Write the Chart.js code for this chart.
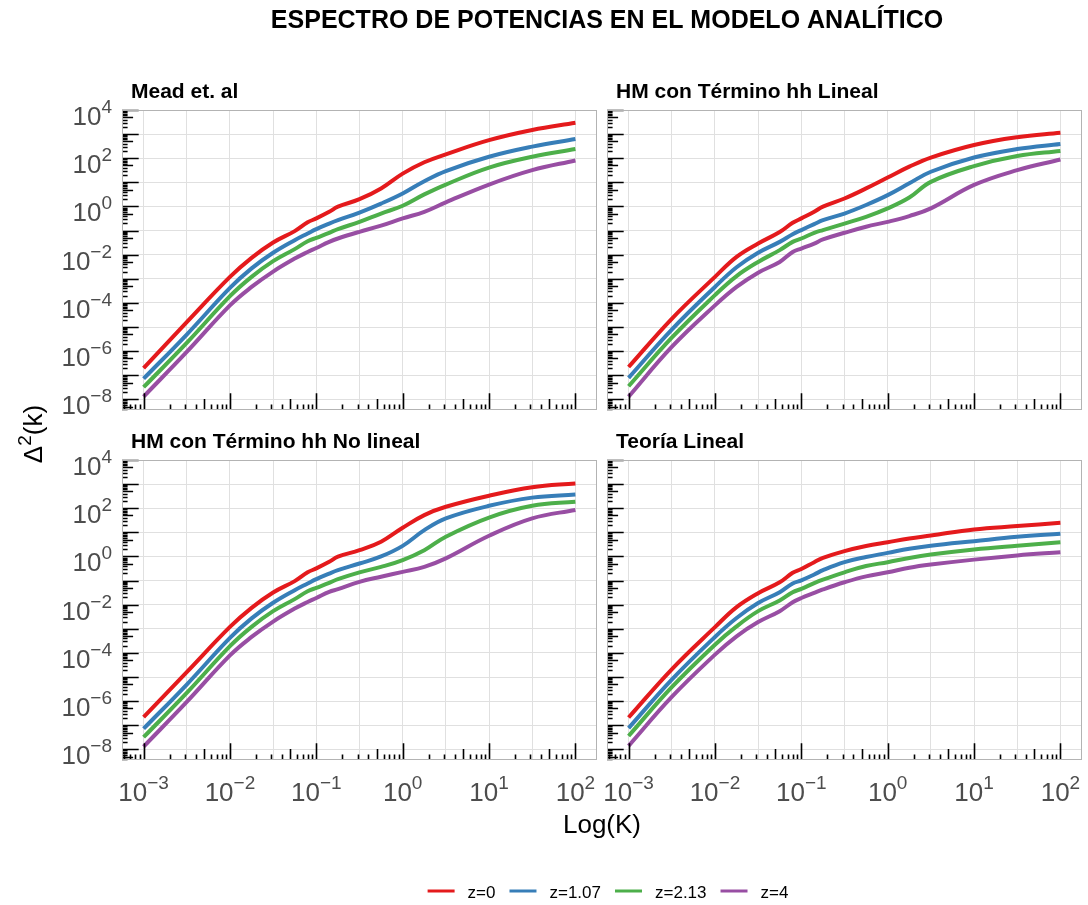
<!DOCTYPE html>
<html>
<head>
<meta charset="utf-8">
<script src="https://cdn.jsdelivr.net/npm/chart.js@4/dist/chart.umd.min.js"></script>
<style>
  html, body { margin: 0; padding: 0; background: #fff; }
  #wrap { position: relative; width: 1088px; height: 905px; }
  #wrap canvas { position: absolute; left: 0; top: 0; }
</style>
</head>
<body>
<div id="wrap"></div>
<script>
// wavenumbers shared by every curve
const kValues = [0.001, 0.00316, 0.01, 0.0178, 0.0316, 0.0562, 0.0794, 0.1, 0.141, 0.178,
                 0.316, 0.562, 1, 1.78, 3.16, 10, 31.6, 100];

const seriesLabels = ['z=0', 'z=1.07', 'z=2.13', 'z=4'];
const seriesColors = ['#E41A1C', '#377EB8', '#4DAF4A', '#984EA3'];

// Mead et. al
const meadZ0   = [2.0e-7, 1.6e-5, 1.2e-3, 7.4e-3, 3.2e-2, 9.5e-2, 0.22, 0.32, 0.60, 0.98, 2.0, 5.6, 23, 68, 145, 560, 1480, 2950];
const meadZ107 = [7.2e-8, 4.9e-6, 4.2e-4, 2.7e-3, 1.2e-2, 4.0e-2, 7.6e-2, 0.115, 0.195, 0.27, 0.56, 1.32, 3.47, 11.2, 29.5, 115, 302, 631];
const meadZ213 = [3.2e-8, 2.2e-6, 1.9e-4, 1.2e-3, 5.4e-3, 1.7e-2, 3.6e-2, 5.0e-2, 8.1e-2, 0.115, 0.23, 0.51, 1.07, 3.16, 8.1, 41, 115, 240];
const meadZ4   = [1.3e-8, 9.3e-7, 7.9e-5, 4.6e-4, 2.0e-3, 6.9e-3, 1.3e-2, 1.9e-2, 3.4e-2, 4.7e-2, 8.9e-2, 0.16, 0.32, 0.60, 1.48, 8.1, 32, 81];

// HM con término hh lineal
const hhLinZ0   = [2.2e-7, 2.2e-5, 1.2e-3, 8.1e-3, 2.9e-2, 8.7e-2, 0.21, 0.32, 0.60, 0.98, 2.14, 5.6, 15.8, 44.7, 107, 355, 741, 1150];
const hhLinZ107 = [7.8e-8, 7.8e-6, 4.6e-4, 3.0e-3, 1.2e-2, 3.4e-2, 7.1e-2, 0.105, 0.186, 0.27, 0.51, 1.15, 2.95, 9.1, 27.5, 107, 240, 389];
const hhLinZ213 = [3.5e-8, 3.6e-6, 2.1e-4, 1.3e-3, 5.0e-3, 1.55e-2, 3.4e-2, 4.7e-2, 8.1e-2, 0.105, 0.195, 0.37, 0.83, 2.34, 10.5, 47, 123, 200];
const hhLinZ4   = [1.3e-8, 1.5e-6, 7.9e-5, 4.6e-4, 1.8e-3, 5.0e-3, 1.3e-2, 1.8e-2, 2.9e-2, 4.3e-2, 8.1e-2, 0.145, 0.23, 0.40, 0.83, 7.8, 32, 89];

// HM con término hh no lineal
const hhNoLinZ0   = [2.2e-7, 1.6e-5, 1.2e-3, 7.4e-3, 3.2e-2, 9.5e-2, 0.22, 0.32, 0.60, 0.98, 1.82, 4.1, 15.5, 52, 115, 331, 741, 1070];
const hhNoLinZ107 = [7.2e-8, 4.9e-6, 4.2e-4, 2.7e-3, 1.2e-2, 4.0e-2, 7.6e-2, 0.115, 0.195, 0.27, 0.51, 1.0, 2.75, 12.3, 38, 126, 275, 372];
const hhNoLinZ213 = [3.2e-8, 2.2e-6, 1.9e-4, 1.2e-3, 5.4e-3, 1.7e-2, 3.6e-2, 5.0e-2, 8.1e-2, 0.115, 0.22, 0.37, 0.71, 1.82, 6.6, 41, 126, 186];
const hhNoLinZ4   = [1.3e-8, 9.3e-7, 7.9e-5, 4.6e-4, 2.0e-3, 6.9e-3, 1.3e-2, 1.9e-2, 3.4e-2, 4.4e-2, 8.9e-2, 0.145, 0.23, 0.37, 0.83, 7.2, 38, 85];

// Teoría lineal
const linearZ0   = [2.1e-7, 2.1e-5, 1.17e-3, 7.9e-3, 3.0e-2, 8.5e-2, 0.21, 0.30, 0.58, 0.87, 1.66, 2.7, 3.9, 5.6, 7.4, 13.2, 18.2, 25];
const linearZ107 = [7.6e-8, 7.8e-6, 4.6e-4, 2.8e-3, 1.17e-2, 3.3e-2, 7.6e-2, 0.102, 0.178, 0.27, 0.58, 0.95, 1.41, 2.1, 2.8, 4.3, 6.5, 8.7];
const linearZ213 = [3.6e-8, 3.8e-6, 2.2e-4, 1.26e-3, 5.4e-3, 1.5e-2, 3.3e-2, 4.5e-2, 7.9e-2, 0.11, 0.22, 0.40, 0.58, 0.87, 1.2, 1.95, 2.8, 3.9];
const linearZ4   = [1.4e-8, 1.5e-6, 8.5e-5, 4.9e-4, 1.9e-3, 5.4e-3, 1.26e-2, 1.9e-2, 3.1e-2, 4.3e-2, 8.5e-2, 0.15, 0.22, 0.34, 0.46, 0.74, 1.1, 1.5];

// labelled powers of ten
const xTickExps = [-3, -2, -1, 0, 1, 2];
const yTickExps = [-8, -6, -4, -2, 0, 2, 4];

const FONT = '"Liberation Sans", Arial, Helvetica, sans-serif';
const BASE_FONT = '26px ' + FONT;
const SUP_FONT = '19px ' + FONT;
const X_LOG = [-3.25, 2.25];
const Y_LOG = [-8.44, 4];
const PANEL_W = 475, PANEL_H = 300;
const W = 1088, H = 905;

const panels = [
  { title: 'Mead et. al', series: [meadZ0, meadZ107, meadZ213, meadZ4], left: 122, top: 110, yLabels: true, xLabels: false },
  { title: 'HM con Término hh Lineal', series: [hhLinZ0, hhLinZ107, hhLinZ213, hhLinZ4], left: 607, top: 110, yLabels: false, xLabels: false },
  { title: 'HM con Término hh No lineal', series: [hhNoLinZ0, hhNoLinZ107, hhNoLinZ213, hhNoLinZ4], left: 122, top: 460, yLabels: true, xLabels: true },
  { title: 'Teoría Lineal', series: [linearZ0, linearZ107, linearZ213, linearZ4], left: 607, top: 460, yLabels: false, xLabels: true }
];

function supText(e) {
  return e < 0 ? '\u2212' + Math.abs(e) : String(e);
}

function drawPower(ctx, e, x, baseY, supY, align) {
  const sup = supText(e);
  ctx.font = BASE_FONT;
  const wb = ctx.measureText('10').width;
  ctx.font = SUP_FONT;
  const ws = ctx.measureText(sup).width;
  const start = align === 'right' ? x - wb - ws : x - (wb + ws) / 2;
  ctx.textAlign = 'left';
  ctx.textBaseline = 'alphabetic';
  ctx.font = BASE_FONT;
  ctx.fillText('10', start, baseY);
  ctx.font = SUP_FONT;
  ctx.fillText(sup, start + wb, supY);
}

// grid at every decade (y) and half decade (x)
function gridValues(lo, hi, step) {
  const out = [];
  for (let e = Math.ceil(lo / step) * step; e <= hi + 1e-9; e += step) out.push(Math.pow(10, e));
  return out;
}

// log ticks along the bottom and left edges, annotation_logticks style
function drawLogTicks(chart) {
  const ctx = chart.ctx, a = chart.chartArea;
  const xs = chart.scales.x, ys = chart.scales.y;
  const len = m => (m === 1 ? 16.7 : m === 5 ? 11.1 : 5.6);
  ctx.save();
  ctx.strokeStyle = '#000';
  ctx.lineWidth = 1.6;
  ctx.lineCap = 'butt';
  ctx.beginPath();
  for (let d = Math.floor(X_LOG[0]); d <= Math.ceil(X_LOG[1]); d++) {
    for (let m = 1; m <= 9; m++) {
      const lg = d + Math.log10(m);
      if (lg < X_LOG[0] || lg > X_LOG[1]) continue;
      const px = Math.round(xs.getPixelForValue(m * Math.pow(10, d))) + 0.5;
      ctx.moveTo(px, a.bottom);
      ctx.lineTo(px, a.bottom - len(m));
    }
  }
  for (let d = Math.floor(Y_LOG[0]); d <= Math.ceil(Y_LOG[1]); d++) {
    for (let m = 1; m <= 9; m++) {
      const lg = d + Math.log10(m);
      if (lg < Y_LOG[0] || lg > Y_LOG[1] + 1e-9) continue;
      const py = Math.round(ys.getPixelForValue(m * Math.pow(10, d))) + 0.5;
      ctx.moveTo(a.left, py);
      ctx.lineTo(a.left + len(m), py);
    }
  }
  ctx.stroke();
  ctx.restore();
}

function makeDecor(panel) {
  return {
    id: 'panelDecor',
    afterDatasetsDraw(chart) {
      const ctx = chart.ctx, a = chart.chartArea;
      drawLogTicks(chart);
      ctx.save();
      ctx.strokeStyle = '#B3B3B3';
      ctx.lineWidth = 1;
      ctx.strokeRect(a.left + 0.5, a.top + 0.5, a.right - a.left - 1, a.bottom - a.top - 1);
      ctx.restore();
    },
    afterDraw(chart) {
      const ctx = chart.ctx, a = chart.chartArea;
      ctx.save();
      ctx.fillStyle = '#000';
      ctx.font = 'bold 21px ' + FONT;
      ctx.textAlign = 'left';
      ctx.textBaseline = 'alphabetic';
      ctx.fillText(panel.title, a.left + 9, a.top - 12);

      ctx.fillStyle = '#4D4D4D';
      if (panel.yLabels) {
        yTickExps.forEach(e => {
          const py = chart.scales.y.getPixelForValue(Math.pow(10, e));
          drawPower(ctx, e, a.left - 10, py + 15, py + 3, 'right');
        });
      }
      if (panel.xLabels) {
        xTickExps.forEach(e => {
          const px = chart.scales.x.getPixelForValue(Math.pow(10, e));
          drawPower(ctx, e, px, a.bottom + 41, a.bottom + 29, 'center');
        });
      }
      ctx.restore();
    }
  };
}

// page title, axis titles and legend
const pageText = {
  id: 'pageText',
  afterDraw(chart) {
    const ctx = chart.ctx;
    ctx.save();
    ctx.fillStyle = '#000';
    ctx.textBaseline = 'alphabetic';
    ctx.textAlign = 'center';
    ctx.font = 'bold 25px ' + FONT;
    ctx.fillText('ESPECTRO DE POTENCIAS EN EL MODELO ANALÍTICO', 607, 28);

    ctx.font = '26px ' + FONT;
    ctx.fillText('Log(K)', 602, 833);

    // Δ²(k), rotated
    ctx.save();
    ctx.translate(42, 434);
    ctx.rotate(-Math.PI / 2);
    ctx.textAlign = 'left';
    ctx.font = '26px ' + FONT;
    const wd = ctx.measureText('\u0394').width;
    const wk = ctx.measureText('(k)').width;
    ctx.font = '19px ' + FONT;
    const w2 = ctx.measureText('2').width;
    let x = -(wd + w2 + wk) / 2;
    ctx.font = '26px ' + FONT;
    ctx.fillText('\u0394', x, 0);
    ctx.font = '19px ' + FONT;
    ctx.fillText('2', x + wd, -11);
    ctx.font = '26px ' + FONT;
    ctx.fillText('(k)', x + wd + w2, 0);
    ctx.restore();

    // legend
    const keyW = 27, keyGap = 13, itemGap = 14, cy = 891;
    ctx.font = '17px ' + FONT;
    const widths = seriesLabels.map(t => ctx.measureText(t).width);
    const total = widths.reduce((s, w) => s + w + keyW + keyGap, 0) + itemGap * (seriesLabels.length - 1);
    let lx = 608 - total / 2;
    ctx.textAlign = 'left';
    seriesLabels.forEach((t, i) => {
      ctx.strokeStyle = seriesColors[i];
      ctx.lineWidth = 3;
      ctx.beginPath();
      ctx.moveTo(lx, cy);
      ctx.lineTo(lx + keyW, cy);
      ctx.stroke();
      ctx.fillStyle = '#000';
      ctx.fillText(t, lx + keyW + keyGap, cy + 7);
      lx += keyW + keyGap + widths[i] + itemGap;
    });
    ctx.restore();
  }
};

const wrap = document.getElementById('wrap');

panels.forEach((panel, p) => {
  const canvas = document.createElement('canvas');
  canvas.width = W;
  canvas.height = H;
  wrap.appendChild(canvas);

  const datasets = panel.series.map((vals, i) => ({
    label: seriesLabels[i],
    data: kValues.map((k, j) => ({ x: k, y: vals[j] })),
    borderColor: seriesColors[i],
    backgroundColor: seriesColors[i],
    borderWidth: 4,
    pointRadius: 0,
    tension: 0.4,
    fill: false
  }));

  const plugins = [makeDecor(panel)];
  if (p === 0) plugins.push(pageText);

  new Chart(canvas, {
    type: 'line',
    data: { datasets },
    options: {
      responsive: false,
      animation: false,
      devicePixelRatio: 1,
      layout: {
        padding: {
          left: panel.left,
          top: panel.top,
          right: W - panel.left - PANEL_W,
          bottom: H - panel.top - PANEL_H
        }
      },
      plugins: { legend: { display: false }, tooltip: { enabled: false } },
      scales: {
        x: {
          type: 'logarithmic',
          min: Math.pow(10, X_LOG[0]),
          max: Math.pow(10, X_LOG[1]),
          afterBuildTicks: s => { s.ticks = gridValues(X_LOG[0], X_LOG[1], 0.5).map(v => ({ value: v })); },
          grid: { color: '#E0E0E0', lineWidth: 1, drawTicks: false },
          border: { display: false },
          ticks: { display: false }
        },
        y: {
          type: 'logarithmic',
          min: Math.pow(10, Y_LOG[0]),
          max: Math.pow(10, Y_LOG[1]),
          afterBuildTicks: s => { s.ticks = gridValues(Y_LOG[0], Y_LOG[1], 1).map(v => ({ value: v })); },
          grid: { color: '#E0E0E0', lineWidth: 1, drawTicks: false },
          border: { display: false },
          ticks: { display: false }
        }
      }
    },
    plugins
  });
});
</script>
</body>
</html>
